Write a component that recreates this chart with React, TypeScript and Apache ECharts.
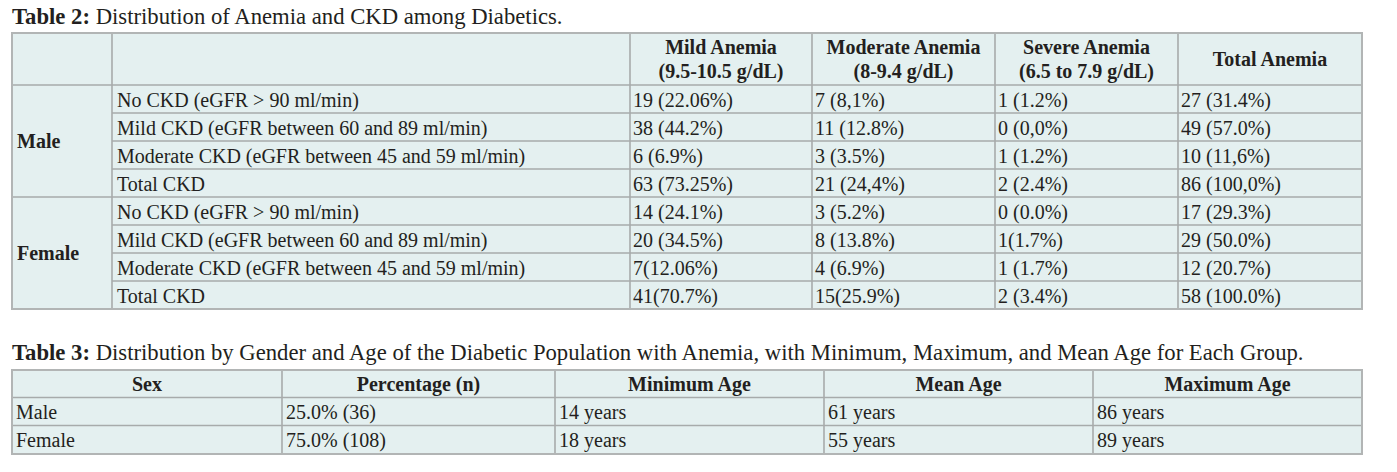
import React, { useEffect, useRef } from "react";
import * as echarts from "echarts";

// ---------- DATA ----------
const table2Title = ["Table 2:", " Distribution of Anemia and CKD among Diabetics."];
const t2HeadTop = ["Mild Anemia", "Moderate Anemia", "Severe Anemia", "Total Anemia"];
const t2HeadSub = ["(9.5-10.5 g/dL)", "(8-9.4 g/dL)", "(6.5 to 7.9 g/dL)", ""];
const t2Groups = ["Male", "Female"];
const t2RowLabels = [
  "No CKD (eGFR > 90 ml/min)",
  "Mild CKD (eGFR between 60 and 89 ml/min)",
  "Moderate CKD (eGFR between 45 and 59 ml/min)",
  "Total CKD",
];
const maleNoCkd = ["19 (22.06%)", "7 (8,1%)", "1 (1.2%)", "27 (31.4%)"];
const maleMildCkd = ["38 (44.2%)", "11 (12.8%)", "0 (0,0%)", "49 (57.0%)"];
const maleModCkd = ["6 (6.9%)", "3 (3.5%)", "1 (1.2%)", "10 (11,6%)"];
const maleTotalCkd = ["63 (73.25%)", "21 (24,4%)", "2 (2.4%)", "86 (100,0%)"];
const femaleNoCkd = ["14 (24.1%)", "3 (5.2%)", "0 (0.0%)", "17 (29.3%)"];
const femaleMildCkd = ["20 (34.5%)", "8 (13.8%)", "1(1.7%)", "29 (50.0%)"];
const femaleModCkd = ["7(12.06%)", "4 (6.9%)", "1 (1.7%)", "12 (20.7%)"];
const femaleTotalCkd = ["41(70.7%)", "15(25.9%)", "2 (3.4%)", "58 (100.0%)"];

const table3Title = [
  "Table 3:",
  " Distribution by Gender and Age of the Diabetic Population with Anemia, with Minimum, Maximum, and Mean Age for Each Group.",
];
const t3Head = ["Sex", "Percentage (n)", "Minimum Age", "Mean Age", "Maximum Age"];
const t3Male = ["Male", "25.0% (36)", "14 years", "61 years", "86 years"];
const t3Female = ["Female", "75.0% (108)", "18 years", "55 years", "89 years"];

// ---------- LAYOUT / STYLE ----------
const FONT = '"Liberation Serif", "Times New Roman", Times, serif';
const INK = "#231f20";
const BG = "#e4f0f0";
const INNER = "#a7abab";
const OUTER = "#b2b5b5";
const FS = 20;
const TFS = 22.7;

const T2_X = [12, 112, 630, 812, 995, 1178, 1362];
const T2_TOP = 33;
const T2_HEAD_BOTTOM = 85;
const T2_ROW_H = 28;
const T3_X = [12, 282, 555, 824, 1093, 1362];
const T3_Y = [370, 397.5, 425.5, 454];

function text(str: string, x: number, y: number, opts: any = {}) {
  const align = opts.align || "left";
  return {
    type: "text",
    x,
    y,
    silent: true,
    style: {
      text: str,
      fill: INK,
      fontSize: opts.fontSize || FS,
      fontFamily: FONT,
      fontWeight: opts.bold ? "bold" : "normal",
      textAlign: align,
      align,
      textVerticalAlign: "middle",
      verticalAlign: "middle",
    },
  };
}

function titleText(parts: string[], x: number, y: number) {
  return {
    type: "text",
    x,
    y,
    silent: true,
    style: {
      text: `{b|${parts[0]}}{r|${parts[1]}}`,
      fill: INK,
      fontSize: TFS,
      fontFamily: FONT,
      textAlign: "left",
      align: "left",
      textVerticalAlign: "middle",
      verticalAlign: "middle",
      rich: {
        b: { fontWeight: "bold", fontSize: TFS, fontFamily: FONT, fill: INK },
        r: { fontWeight: "normal", fontSize: TFS, fontFamily: FONT, fill: INK },
      },
    },
  };
}

function line(x1: number, y1: number, x2: number, y2: number, color = INNER, w = 1.6) {
  return {
    type: "line",
    silent: true,
    shape: { x1, y1, x2, y2 },
    style: { stroke: color, lineWidth: w },
  };
}

function buildGraphics() {
  const els: any[] = [];
  // ---- Table 2 ----
  els.push(titleText(table2Title, 12, 16.5));
  const groupsRows = [
    [maleNoCkd, maleMildCkd, maleModCkd, maleTotalCkd],
    [femaleNoCkd, femaleMildCkd, femaleModCkd, femaleTotalCkd],
  ];
  const nRows = groupsRows.length * t2RowLabels.length;
  const t2Bottom = T2_HEAD_BOTTOM + nRows * T2_ROW_H;
  els.push({
    type: "rect",
    silent: true,
    shape: { x: T2_X[0], y: T2_TOP, width: T2_X[T2_X.length - 1] - T2_X[0], height: t2Bottom - T2_TOP },
    style: { fill: BG, stroke: "none" },
  });
  for (let i = 1; i < T2_X.length - 1; i++) els.push(line(T2_X[i], T2_TOP, T2_X[i], t2Bottom));
  els.push(line(T2_X[0], T2_HEAD_BOTTOM, T2_X[T2_X.length - 1], T2_HEAD_BOTTOM));
  for (let r = 1; r < nRows; r++) {
    const y = T2_HEAD_BOTTOM + r * T2_ROW_H;
    const full = r % t2RowLabels.length === 0;
    els.push(line(full ? T2_X[0] : T2_X[1], y, T2_X[T2_X.length - 1], y));
  }
  els.push({
    type: "rect",
    silent: true,
    shape: { x: T2_X[0], y: T2_TOP, width: T2_X[T2_X.length - 1] - T2_X[0], height: t2Bottom - T2_TOP },
    style: { fill: "none", stroke: OUTER, lineWidth: 2 },
  });
  const headMid = (T2_TOP + T2_HEAD_BOTTOM) / 2;
  t2HeadTop.forEach((h, i) => {
    const cx = (T2_X[i + 2] + T2_X[i + 3]) / 2;
    if (t2HeadSub[i]) {
      els.push(text(h, cx, headMid - 12, { bold: true, align: "center" }));
      els.push(text(t2HeadSub[i], cx, headMid + 12, { bold: true, align: "center" }));
    } else {
      els.push(text(h, cx, headMid, { bold: true, align: "center" }));
    }
  });
  groupsRows.forEach((rows, g) => {
    const gTop = T2_HEAD_BOTTOM + g * t2RowLabels.length * T2_ROW_H;
    els.push(text(t2Groups[g], T2_X[0] + 5, gTop + (t2RowLabels.length * T2_ROW_H) / 2, { bold: true }));
    rows.forEach((vals, r) => {
      const cy = gTop + r * T2_ROW_H + T2_ROW_H / 2 + 0.5;
      els.push(text(t2RowLabels[r], T2_X[1] + 5, cy));
      vals.forEach((v, c) => els.push(text(v, T2_X[c + 2] + 3, cy)));
    });
  });

  // ---- Table 3 ----
  els.push(titleText(table3Title, 12, 352.5));
  const t3Rows = [t3Head, t3Male, t3Female];
  const t3Left = T3_X[0];
  const t3W = T3_X[T3_X.length - 1] - t3Left;
  const t3Top = T3_Y[0];
  const t3Bot = T3_Y[T3_Y.length - 1];
  els.push({
    type: "rect",
    silent: true,
    shape: { x: t3Left, y: t3Top, width: t3W, height: t3Bot - t3Top },
    style: { fill: BG, stroke: "none" },
  });
  for (let i = 1; i < T3_X.length - 1; i++) els.push(line(T3_X[i], t3Top, T3_X[i], t3Bot));
  for (let j = 1; j < T3_Y.length - 1; j++) els.push(line(t3Left, T3_Y[j], t3Left + t3W, T3_Y[j]));
  els.push({
    type: "rect",
    silent: true,
    shape: { x: t3Left, y: t3Top, width: t3W, height: t3Bot - t3Top },
    style: { fill: "none", stroke: OUTER, lineWidth: 2 },
  });
  t3Rows.forEach((row, r) => {
    const cy = (T3_Y[r] + T3_Y[r + 1]) / 2 + 0.5;
    row.forEach((v, c) => {
      if (r === 0) {
        els.push(text(v, (T3_X[c] + T3_X[c + 1]) / 2, cy, { bold: true, align: "center" }));
      } else {
        els.push(text(v, T3_X[c] + 4, cy));
      }
    });
  });
  return els;
}

export default function App() {
  const ref = useRef<HTMLDivElement>(null);
  useEffect(() => {
    document.body.style.margin = "0";
    const chart = echarts.init(ref.current!, null, { renderer: "svg" });
    chart.setOption({
      animation: false,
      backgroundColor: "#ffffff",
      graphic: { elements: buildGraphics() },
    });
    return () => chart.dispose();
  }, []);
  return (
    <div
      ref={ref}
      style={{ position: "absolute", left: 0, top: 0, width: 1397, height: 472, background: "#fff" }}
    />
  );
}
